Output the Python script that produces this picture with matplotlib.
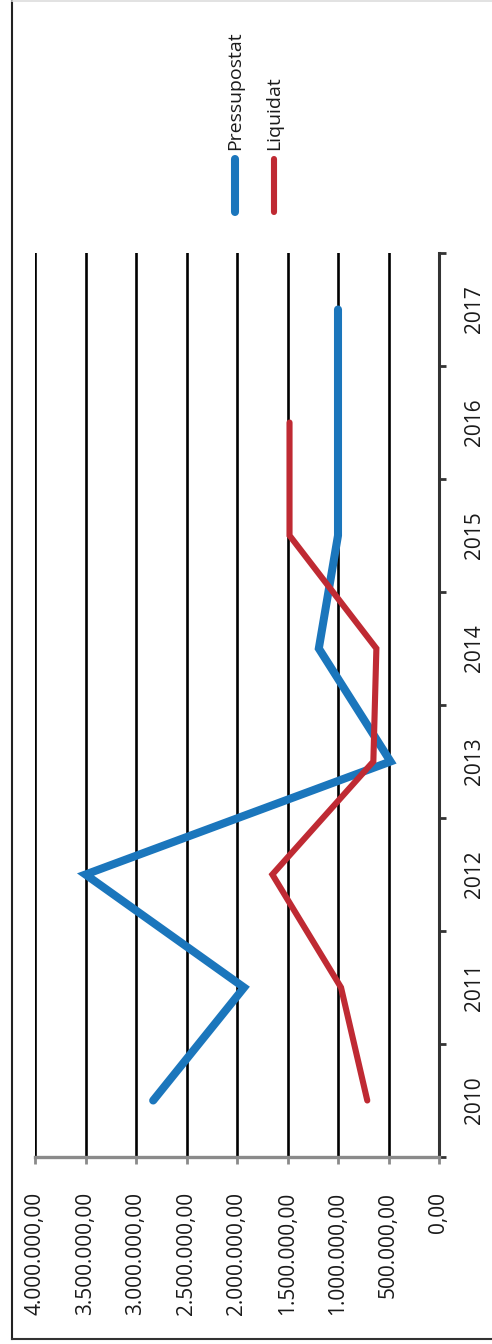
import matplotlib
matplotlib.use('Agg')
from matplotlib import pyplot as plt
from matplotlib.lines import Line2D


plt.rcParams['font.family'] = ['Open Sans', 'DejaVu Sans']

# Data (chart is printed rotated 90 degrees)
years = ['2010', '2011', '2012', '2013', '2014', '2015', '2016', '2017']
pressupostat = [2830000, 1930000, 3500000, 480000, 1190000, 1000000, 1000000, 1000000]
liquidat = [710000, 970000, 1650000, 650000, 620000, 1480000, 1480000, None]
value_ticks = [0, 500000, 1000000, 1500000, 2000000, 2500000, 3000000, 3500000, 4000000]
value_labels = ['0,00', '500.000,00', '1.000.000,00', '1.500.000,00', '2.000.000,00',
                '2.500.000,00', '3.000.000,00', '3.500.000,00', '4.000.000,00']

BLUE = '#1b76bc'
RED = '#bf2a33'

W, H = 492, 1344
fig = plt.figure(figsize=(W / 100, H / 100), dpi=100)
ax = fig.add_axes([35 / W, (H - 1157) / H, 404 / W, 904 / H])

pos = list(range(len(years)))
ax.plot(pressupostat, pos, color=BLUE, lw=5.8, solid_capstyle='round',
        solid_joinstyle='miter', zorder=3)
liq_pos = [p for p, v in zip(pos, liquidat) if v is not None]
liq_val = [v for v in liquidat if v is not None]
ax.plot(liq_val, liq_pos, color=RED, lw=4.4, solid_capstyle='round',
        solid_joinstyle='miter', zorder=4)

ax.set_xlim(4000000, 0)
ax.set_ylim(-0.5, len(years) - 0.5)

# value axis (bottom)
ax.set_xticks(value_ticks)
ax.set_xticklabels(value_labels, rotation=90, fontsize=15)
ax.tick_params(axis='x', direction='out', length=5, width=2, color='#8a8a8a',
               pad=20, labelcolor='#1a1a1a')
for v in value_ticks[1:]:
    ax.axvline(v, color='black', lw=1.9, zorder=1)

# category axis (right side)
ax.yaxis.tick_right()
ax.set_yticks([p - 0.5 for p in pos] + [len(years) - 0.5])
ax.set_yticklabels([])
ax.set_yticks(pos, minor=True)
ax.set_yticklabels(years, minor=True, rotation=90, va='center', fontsize=15)
ax.tick_params(axis='y', which='major', direction='out', length=5, width=2,
               color='#333333')
ax.tick_params(axis='y', which='minor', length=0, pad=18, labelcolor='#1a1a1a')

for s in ['top', 'left']:
    ax.spines[s].set_visible(False)
ax.spines['right'].set_color('#333333')
ax.spines['right'].set_linewidth(2.2)
ax.spines['bottom'].set_color('#8a8a8a')
ax.spines['bottom'].set_linewidth(2.4)

# legend (rotated)
for x, color, lw, label in [(235, BLUE, 5.8, 'Pressupostat'), (274, RED, 4.4, 'Liquidat')]:
    fig.add_artist(Line2D([x / W, x / W], [(H - 212) / H, (H - 159) / H],
                          color=color, lw=lw, solid_capstyle='round'))
    fig.text(x / W, (H - 150) / H, label, rotation=90, ha='center', va='bottom',
             fontsize=14, color='#1a1a1a')

# page frame
fig.add_artist(Line2D([12 / W, 12 / W], [(H - 1339) / H, 1.0], color='#222222', lw=1.5))
fig.add_artist(Line2D([12 / W, 1.0], [(H - 1339) / H, (H - 1339) / H], color='#333333', lw=1.5))
fig.add_artist(Line2D([12 / W, 1.0], [(H - 1) / H, (H - 1) / H], color='#dddddd', lw=1.2))

fig.savefig('out.png', dpi=100)
